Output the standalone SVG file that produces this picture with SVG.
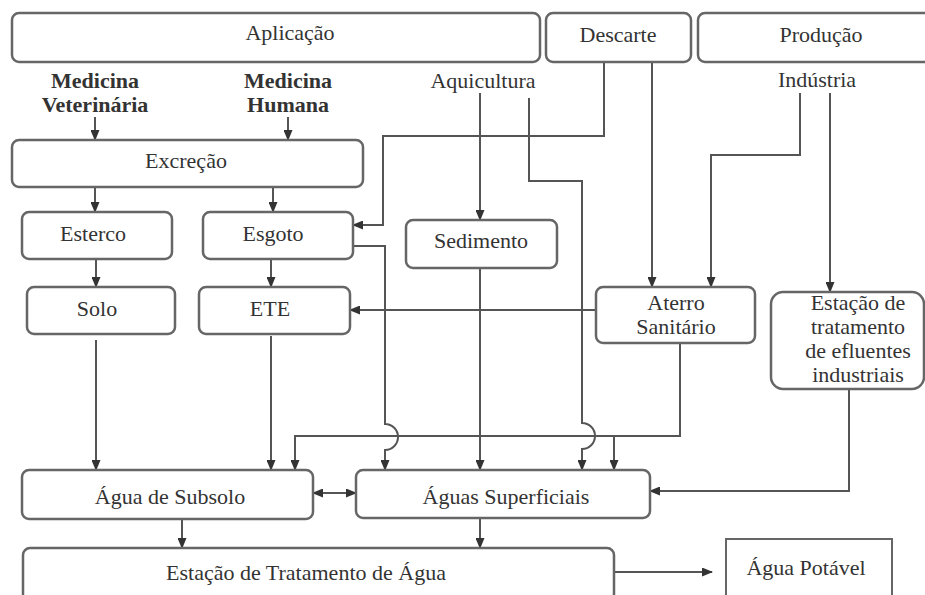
<svg xmlns="http://www.w3.org/2000/svg" width="925" height="595" viewBox="0 0 925 595">
<style>
.box{fill:#fff;stroke:#666;stroke-width:2.5}
.c{fill:none;stroke:#555;stroke-width:2}
</style>
<defs>
<marker id="ar" markerUnits="userSpaceOnUse" markerWidth="11" markerHeight="9" refX="10" refY="4.5" orient="auto-start-reverse">
<path d="M0,0 L11,4.5 L0,9 z" fill="#333"/>
</marker>
</defs>
<rect width="925" height="595" fill="#fff"/>
<g id="connectors" class="c">
<path marker-end="url(#ar)" d="M95,117 V140"/>
<path marker-end="url(#ar)" d="M288,117 V140"/>
<path marker-end="url(#ar)" d="M480,93 V220"/>
<path marker-end="url(#ar)" d="M529,98 V181 H582 V423 A13,13 0 0 1 582,449 V470"/>
<path marker-end="url(#ar)" d="M604,62 V136 H383 V225 H353"/>
<path marker-end="url(#ar)" d="M652,62 V287"/>
<path marker-end="url(#ar)" d="M800,93 V155 H711 V287"/>
<path marker-end="url(#ar)" d="M830,93 V292"/>
<path marker-end="url(#ar)" d="M95,187 V212"/>
<path marker-end="url(#ar)" d="M273,187 V212"/>
<path marker-end="url(#ar)" d="M96,259 V287"/>
<path marker-end="url(#ar)" d="M271,259 V287"/>
<path marker-end="url(#ar)" d="M353,246 H385 V424 A13,13 0 0 1 385,450 V470"/>
<path marker-end="url(#ar)" d="M596,310 H350"/>
<path marker-end="url(#ar)" d="M480,268 V470"/>
<path marker-end="url(#ar)" d="M96,340 V470"/>
<path marker-end="url(#ar)" d="M271,336 V470"/>
<path marker-end="url(#ar)" d="M680,343 V436 H295 V470"/>
<path marker-end="url(#ar)" d="M614,436 V470"/>
<path marker-end="url(#ar)" d="M849,389 V491 H650"/>
<path marker-start="url(#ar)" marker-end="url(#ar)" d="M313,493 H356"/>
<path marker-end="url(#ar)" d="M182,519 V548"/>
<path marker-end="url(#ar)" d="M480,518 V548"/>
<path marker-end="url(#ar)" d="M614,572 H712"/>
</g>
<g font-family="Liberation Serif, Times New Roman, Times, serif" font-size="22" fill="#333" text-anchor="middle">
<g id="aplicacao"><rect class="box" x="12" y="13" width="528" height="49" rx="7"/><text x="290" y="40">Aplicação</text></g>
<g id="descarte"><rect class="box" x="546" y="13" width="145" height="49" rx="7"/><text x="618" y="42">Descarte</text></g>
<g id="producao"><rect class="box" x="698" y="13" width="240" height="49" rx="7"/><text x="821" y="42">Produção</text></g>
<g id="med-vet" font-weight="bold"><text x="95" y="88">Medicina</text><text x="95" y="112">Veterinária</text></g>
<g id="med-hum" font-weight="bold"><text x="288" y="88">Medicina</text><text x="288" y="112">Humana</text></g>
<g id="aquicultura"><text x="483" y="88">Aquicultura</text></g>
<g id="industria"><text x="817" y="87">Indústria</text></g>
<g id="excrecao"><rect class="box" x="12" y="140" width="351" height="47" rx="7"/><text x="186" y="168">Excreção</text></g>
<g id="esterco"><rect class="box" x="22" y="212" width="150" height="47" rx="7"/><text x="93" y="241">Esterco</text></g>
<g id="esgoto"><rect class="box" x="203" y="212" width="150" height="47" rx="7"/><text x="273" y="241">Esgoto</text></g>
<g id="sedimento"><rect class="box" x="406" y="220" width="151" height="48" rx="7"/><text x="481" y="248">Sedimento</text></g>
<g id="solo"><rect class="box" x="27" y="287" width="148" height="47" rx="7"/><text x="97" y="316">Solo</text></g>
<g id="ete"><rect class="box" x="199" y="287" width="151" height="47" rx="7"/><text x="270" y="316">ETE</text></g>
<g id="aterro"><rect class="box" x="596" y="287" width="159" height="56" rx="7"/><text x="676" y="310">Aterro</text><text x="676" y="334">Sanitário</text></g>
<g id="efluentes"><rect class="box" x="771" y="292" width="153" height="97" rx="12"/><text x="858" y="310">Estação de</text><text x="858" y="334">tratamento</text><text x="858" y="358">de efluentes</text><text x="858" y="382">industriais</text></g>
<g id="subsolo"><rect class="box" x="22" y="470" width="291" height="49" rx="7"/><text x="170" y="504">Água de Subsolo</text></g>
<g id="superficiais"><rect class="box" x="356" y="470" width="294" height="48" rx="7"/><text x="506" y="504">Águas Superficiais</text></g>
<g id="eta"><rect class="box" x="23" y="548" width="591" height="56" rx="7"/><text x="306" y="580">Estação de Tratamento de Água</text></g>
<g id="potavel"><rect x="726" y="539" width="166" height="62" fill="#fff" stroke="#666" stroke-width="2"/><text x="806" y="575">Água Potável</text></g>
</g>
</svg>
